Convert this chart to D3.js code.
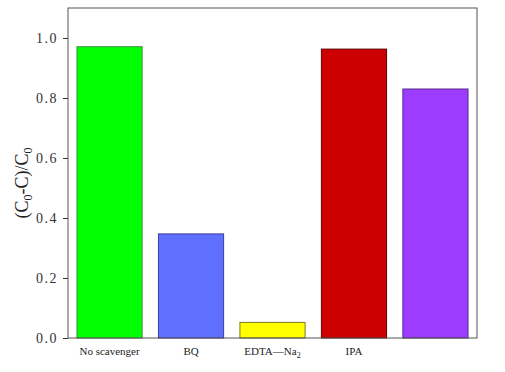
<!DOCTYPE html>
<html><head><meta charset="utf-8">
<script src="https://cdn.jsdelivr.net/npm/d3@7"></script>
<style>body{margin:0;background:#fff}svg{display:block}</style>
</head><body>
<script>
const categories = ["No scavenger", "BQ", "EDTA\u2014Na", "IPA", ""];
const subscripts = ["", "", "2", "", ""];
const values = [0.971, 0.347, 0.052, 0.963, 0.83];
const fills = ["#00ff00", "#5f6fff", "#ffff00", "#cc0000", "#9b3cff"];
const strokes = ["#3f8f3f", "#3a3f9a", "#7a7a20", "#600000", "#5a2a90"];
const yTicks = [0, 0.2, 0.4, 0.6, 0.8, 1.0];

const W = 505, H = 372;
const m = {left: 68, top: 8, right: 477, bottom: 338};
const svg = d3.select("body").append("svg").attr("width", W).attr("height", H);

const x = d3.scaleBand().domain(d3.range(categories.length)).range([m.left, m.right]).paddingInner(0.2).paddingOuter(0.11);
const y = d3.scaleLinear().domain([0, 1.1]).range([m.bottom, m.top]);

svg.selectAll("rect.bar").data(values).join("rect").attr("class", "bar")
  .attr("x", (d, i) => x(i)).attr("width", x.bandwidth())
  .attr("y", d => y(d)).attr("height", d => y(0) - y(d))
  .attr("fill", (d, i) => fills[i]).attr("stroke", (d, i) => strokes[i]).attr("stroke-width", 1);

svg.append("rect").attr("x", m.left).attr("y", m.top).attr("width", m.right - m.left).attr("height", m.bottom - m.top)
  .attr("fill", "none").attr("stroke", "#555").attr("stroke-width", 1);

const yAxis = svg.append("g").attr("transform", `translate(${m.left},0)`)
  .call(d3.axisLeft(y).tickValues(yTicks).tickFormat(d3.format(".1f")).tickSize(5).tickPadding(5));
yAxis.select(".domain").remove();
yAxis.selectAll("line").attr("stroke", "#333");
yAxis.selectAll("text").attr("font-family", "Liberation Serif, Times New Roman, serif").attr("font-size", 14).attr("fill", "#333").attr("letter-spacing", 1.5);

const xl = svg.append("g");
categories.forEach((c, i) => {
  const t = xl.append("text").attr("x", x(i) + x.bandwidth() / 2).attr("y", 355)
    .attr("text-anchor", "middle").attr("font-family", "Liberation Serif, Times New Roman, serif").attr("font-size", 11).attr("fill", "#222");
  t.append("tspan").text(c);
  if (subscripts[i]) t.append("tspan").attr("font-size", 8).attr("dy", 3).text(subscripts[i]);
});

const yl = svg.append("text").attr("transform", `translate(28,${(m.top + m.bottom) / 2 + 10}) rotate(-90)`)
  .attr("text-anchor", "middle").attr("font-family", "Liberation Serif, Times New Roman, serif").attr("font-size", 18).attr("fill", "#222");
yl.append("tspan").text("(C");
yl.append("tspan").attr("font-size", 12).attr("dy", 4).text("0");
yl.append("tspan").attr("dy", -4).text("-C)/C");
yl.append("tspan").attr("font-size", 12).attr("dy", 4).text("0");
</script>
</body></html>
